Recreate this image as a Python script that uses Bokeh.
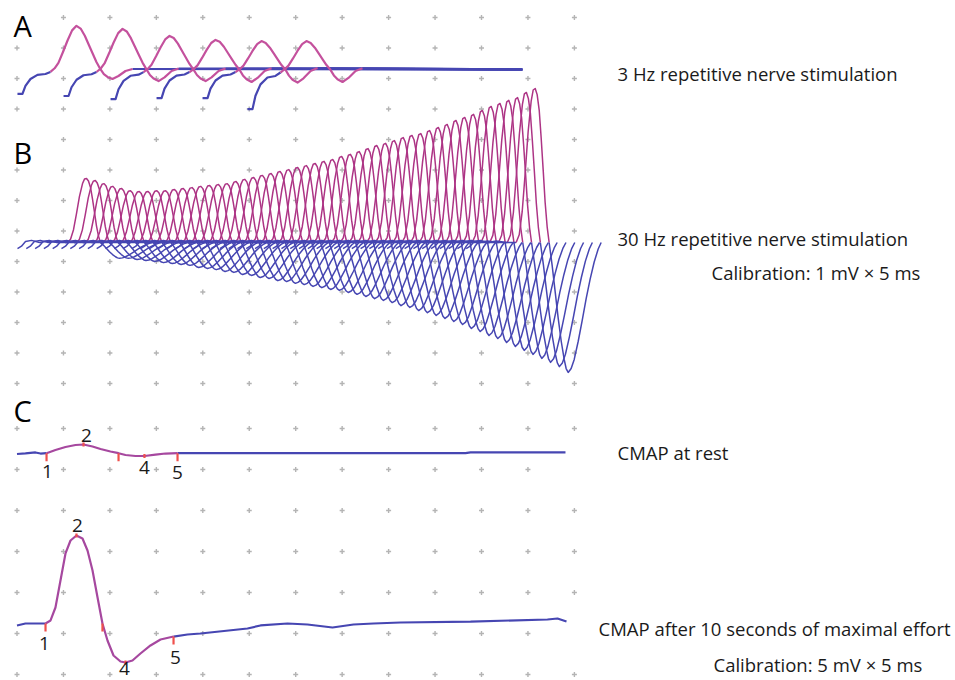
import numpy as np
from bokeh.plotting import figure
from bokeh.models import Range1d, ColumnDataSource
from bokeh.core.properties import value
from bokeh.embed import file_html
from bokeh.resources import INLINE

# ---------------- data (time in ms, amplitude in mV) ----------------
# dotted grid: one division = 5 ms horizontally; 1 mV (A, B) or 5 mV (C) vertically
grid_cols_ms = [0, 5, 10, 15, 20, 25, 30, 35, 40, 45, 50, 55, 60]
grid_rows_ab_mv = [0, 1, 2, 3, 4, 5, 6, 7, 8, 9, 10, 11, 12]
grid_rows_c_mv = [0, 5, 10, 15, 20, 25, 30]

# Panel A: 3 Hz repetitive nerve stimulation, six responses
a_start_ms = [0.05, 5.01, 10.07, 15.02, 19.97, 24.81]
a_peak_mv = [1.48, 1.38, 1.15, 1.02, 0.98, 0.98]
a_trough_mv = [0.26, 0.33, 0.33, 0.36, 0.38, 0.36]
a_artifact_mv = [0.75, 0.82, 0.92, 0.89, 0.89, 1.25]
a_end_ms = 54.4
a_tail_mv = 0.05
# waveform of one response
a_t_ms = [0.00, 0.54, 0.86, 1.40, 2.15, 3.01, 3.55, 4.00, 4.41, 4.90, 5.38,
          5.88, 6.35, 6.80, 7.25, 7.70, 8.07, 8.50, 8.93, 9.30, 9.69, 10.23,
          10.87, 11.63, 12.38]
a_art = [1, 1, 0.65, 0.35, 0.17, 0.13, 0.04] + [0] * 18
a_pos = [0] * 6 + [0, 0.06, 0.18, 0.42, 0.67, 0.90, 1.0, 0.94, 0.78, 0.57,
                   0.40, 0.20, 0.04] + [0] * 6
a_neg = [0] * 18 + [0, 0.40, 0.75, 1.0, 0.63, 0.0, -0.25]

# Panel B: 30 Hz repetitive nerve stimulation, 52 responses
b_peak_mv = [2.10, 2.03, 1.93, 1.84, 1.77, 1.70, 1.67, 1.67, 1.70, 1.70,
             1.74, 1.77, 1.80, 1.84, 1.87, 1.90, 1.93, 2.00, 2.07, 2.13,
             2.20, 2.26, 2.33, 2.39, 2.46, 2.52, 2.59, 2.66, 2.72, 2.82,
             2.89, 2.98, 3.08, 3.18, 3.25, 3.34, 3.44, 3.51, 3.57, 3.67,
             3.77, 3.87, 4.00, 4.10, 4.20, 4.33, 4.46, 4.56, 4.66, 4.75,
             4.92, 5.05]
b_trough_mv = [0.52, 0.52, 0.56, 0.59, 0.62, 0.66, 0.69, 0.72, 0.75, 0.82,
               0.85, 0.89, 0.95, 0.98, 1.05, 1.08, 1.15, 1.18, 1.25, 1.28,
               1.34, 1.38, 1.44, 1.48, 1.54, 1.57, 1.64, 1.70, 1.77, 1.84,
               1.90, 1.97, 2.07, 2.13, 2.23, 2.30, 2.39, 2.49, 2.59, 2.69,
               2.82, 2.92, 3.05, 3.15, 3.28, 3.41, 3.54, 3.67, 3.80, 3.93,
               4.07, 4.26]
b_t_ms = [0.00, 0.43, 0.86, 1.51, 2.37, 3.23, 4.31, 5.38,
          5.71, 6.03, 6.35, 6.67, 7.00, 7.21, 7.43, 7.64, 7.86, 8.07, 8.29,
          8.50, 8.72, 8.93,
          9.26, 9.58, 9.90, 10.23, 10.55, 10.76, 10.98, 11.30, 11.63, 12.06,
          12.49, 12.92, 13.35, 13.78, 14.21, 14.53]
b_art_mv = [-0.20, -0.12, 0.03, 0.07, 0.00, 0.05, 0.00, 0.00] + [0.0] * 30
b_pos = [0] * 7 + [0, 0.05, 0.20, 0.45, 0.72, 0.92, 0.99, 1.0, 0.96, 0.86,
                   0.68, 0.47, 0.26, 0.10, 0.0] + [0] * 16
b_neg = [0] * 21 + [0, 0.18, 0.38, 0.58, 0.76, 0.90, 0.97, 1.0, 0.97, 0.90,
                    0.76, 0.60, 0.43, 0.28, 0.15, 0.05, 0.0]

# Panel C: CMAP at rest
c_rest_t = [0.0, 0.91, 1.45, 1.99, 2.53, 3.18, 4.14, 5.22, 6.30, 7.16, 8.13,
            8.99, 10.06, 10.93, 11.68, 12.75, 13.72, 14.91, 15.99, 17.28,
            30.52, 48.28, 48.82, 59.04]
c_rest_v = [-0.10, -0.01, 0.05, 0.09, -0.04, 0.0, 0.39, 0.76, 1.0, 1.06, 0.82,
            0.51, 0.21, 0.0, -0.22, -0.34, -0.34, -0.18, -0.04, 0.0,
            0.02, 0.01, 0.09, 0.09]
c_rest_marks = [5, 9, 13, 16, 19]
# Panel C: CMAP after 10 s of maximal effort
c_eff_t = [0.0, 0.91, 3.07, 3.61, 4.14, 4.68, 5.22, 5.76, 6.40, 7.05, 7.59,
           8.13, 8.67, 9.20, 9.74, 10.39, 11.14, 11.68, 12.43, 13.29, 14.37,
           15.45, 16.85, 18.35, 19.75, 24.81, 26.21, 29.12, 31.27, 33.96,
           36.22, 38.38, 41.28, 48.82, 57.10, 58.18, 59.15]
c_eff_v = [-0.24, 0.0, 0.0, 0.37, 1.95, 5.24, 8.54, 10.12, 10.73, 10.37, 8.90,
           6.46, 3.17, 0.0, -2.07, -3.90, -4.63, -4.76, -4.51, -3.66, -2.68,
           -1.95, -1.59, -1.34, -1.22, -0.61, -0.24, 0.0, -0.12, -0.49,
           -0.12, 0.0, 0.12, 0.24, 0.49, 0.61, 0.24]
c_eff_marks = [2, 8, 13, 17, 22]
mark_names = ["1", "2", "", "4", "5"]

# ---------------- layout ----------------
W, H = 955, 680
PX_MS = 9.29          # px per ms
X0 = 16.5             # page x of 0 ms
AB_PX = 30.5          # px per mV in A/B
AB_Y0 = 383.0         # page y of 0 in A/B grid
C_PX = 8.2            # px per mV in C
C_Y0 = 674.0          # page y of 0 in C grid

def X(px):
    return (px - X0) / PX_MS

def YAB(py):
    return (AB_Y0 - py) / AB_PX

def YC(py):
    return (C_Y0 - py) / C_PX

A_BASE = YAB(70.5)
B_BASE = YAB(242.0)
B_X0 = 0.054
B_SHIFT = 0.947
C_REST_BASE = YC(452.7)
C_EFF_BASE = YC(623.0)

BLUE = "#4646b2"
PINK = "#c4519d"
MAG = "#ad3485"
CPUR = "#a6489f"
RED = "#f0504c"
DOT = "#b4b4b4"
FONT = value("Open Sans")

p = figure(width=W, height=H, output_backend="svg", toolbar_location=None,
           x_range=Range1d(X(0), X(W)), y_range=Range1d(YAB(H), YAB(0)),
           min_border=0, x_axis_location=None, y_axis_location=None,
           outline_line_color=None)
p.extra_y_ranges = {"c": Range1d(YC(H), YC(0))}
p.grid.visible = False
p.background_fill_color = "white"
p.border_fill_color = "white"

# grid dots
gx, gy = [], []
for j in grid_rows_ab_mv:
    for i, c in enumerate(grid_cols_ms):
        if i == 0 and j in (12, 8):
            continue
        gx.append(c); gy.append(j)
p.scatter(gx, gy, marker="cross", size=5, line_width=1.4, line_color=DOT)
cx, cy = [], []
for r in grid_rows_c_mv:
    for i, c in enumerate(grid_cols_ms):
        if i == 12 and r in (25, 5):
            continue
        cx.append(c); cy.append(r)
p.scatter(cx, cy, marker="cross", size=5, line_width=1.4, line_color=DOT,
          y_range_name="c")

# ---- Panel A
xs, ys, cols = [], [], []
t = np.array(a_t_ms)
va = []
for k in range(len(a_start_ms)):
    v = (-a_artifact_mv[k] * np.array(a_art) + a_peak_mv[k] * np.array(a_pos)
         - a_trough_mv[k] * np.array(a_neg)) + A_BASE
    x = t + a_start_ms[k]
    va.append((x, v))
    xs.append(list(x[:7])); ys.append(list(v[:7])); cols.append(BLUE)
    xs.append([x[-1], a_end_ms]); ys.append([v[-1], A_BASE + a_tail_mv]); cols.append(BLUE)
for x, v in va:
    xs.append(list(x[6:])); ys.append(list(v[6:])); cols.append(PINK)
p.multi_line(xs="xs", ys="ys", line_color="c", line_width=2.2, line_join="round",
             source=ColumnDataSource(dict(xs=xs, ys=ys, c=cols)))

# ---- Panel B
xs, ys, cols = [], [], []
t = np.array(b_t_ms)
for k in range(len(b_peak_mv)):
    v = (np.array(b_art_mv) + b_peak_mv[k] * np.array(b_pos)
         - b_trough_mv[k] * np.array(b_neg)) + B_BASE
    x = t + B_X0 + B_SHIFT * k
    xs.append(list(x[:8])); ys.append(list(v[:8])); cols.append(BLUE)
    xs.append(list(x[7:22])); ys.append(list(v[7:22])); cols.append(MAG)
    xs.append(list(x[21:])); ys.append(list(v[21:])); cols.append(BLUE)
p.multi_line(xs="xs", ys="ys", line_color="c", line_width=1.5, line_join="round",
             source=ColumnDataSource(dict(xs=xs, ys=ys, c=cols)))

# ---- Panel C
def cmap(tl, vl, marks, base, lab_dy, lab_dx):
    x = np.array(tl); v = np.array(vl) + base
    m0, m4 = marks[0], marks[-1]
    p.line(list(x[:m0 + 1]), list(v[:m0 + 1]), line_color=BLUE, line_width=2.2, y_range_name="c")
    p.line(list(x[m4:]), list(v[m4:]), line_color=BLUE, line_width=2.2, y_range_name="c")
    p.line(list(x[m0:m4 + 1]), list(v[m0:m4 + 1]), line_color=CPUR, line_width=2.2,
           line_join="round", y_range_name="c")
    tick = 8.0 / C_PX
    small = 2.0 / C_PX
    x0s, y0s, x1s, y1s = [], [], [], []
    for n, mi in enumerate(marks):
        if n in (1, 3):
            x0s.append(x[mi]); y0s.append(v[mi] + small)
            x1s.append(x[mi]); y1s.append(v[mi] - small)
        else:
            x0s.append(x[mi]); y0s.append(v[mi])
            x1s.append(x[mi]); y1s.append(v[mi] - tick)
    p.segment(x0s, y0s, x1s, y1s, line_color=RED, line_width=2.2, y_range_name="c")
    lx, ly, lt = [], [], []
    for n, mi in enumerate(marks):
        if mark_names[n]:
            lx.append(x[mi] + lab_dx[n] / PX_MS)
            ly.append(v[mi] - lab_dy[n] / C_PX)
            lt.append(mark_names[n])
    p.text(lx, ly, text=lt, text_font=FONT, text_font_size=value("19px"),
           text_align="center", text_baseline="middle", text_color="#1a1a1a",
           y_range_name="c")

cmap(c_rest_t, c_rest_v, c_rest_marks, C_REST_BASE,
     [18, -9, 0, 11.5, 19], [1, 3, 0, 0, 0])
cmap(c_eff_t, c_eff_v, c_eff_marks, C_EFF_BASE,
     [20, -10, 0, 6, 21], [-1, 1, 0, -1, 2])

# ---- texts
def txt(px, py, s, size, color="#1a1a1a"):
    p.text([X(px)], [YAB(py)], text=[s], text_font=FONT, text_font_size=value(size),
           text_align="left", text_baseline="middle", text_color=color)

txt(13, 25, "A", "29px", "#000000")
txt(13, 152, "B", "29px", "#000000")
txt(13, 410, "C", "29px", "#000000")
txt(617, 73, "3 Hz repetitive nerve stimulation", "18.5px")
txt(617, 238, "30 Hz repetitive nerve stimulation", "18.5px")
txt(711, 272, "Calibration: 1 mV \u00d7 5 ms", "18.5px")
txt(617, 452, "CMAP at rest", "18.5px")
txt(598, 628, "CMAP after 10 seconds of maximal effort", "18.5px")
txt(713, 664, "Calibration: 5 mV \u00d7 5 ms", "18.5px")

open("out.html", "w").write(file_html(p, INLINE))
